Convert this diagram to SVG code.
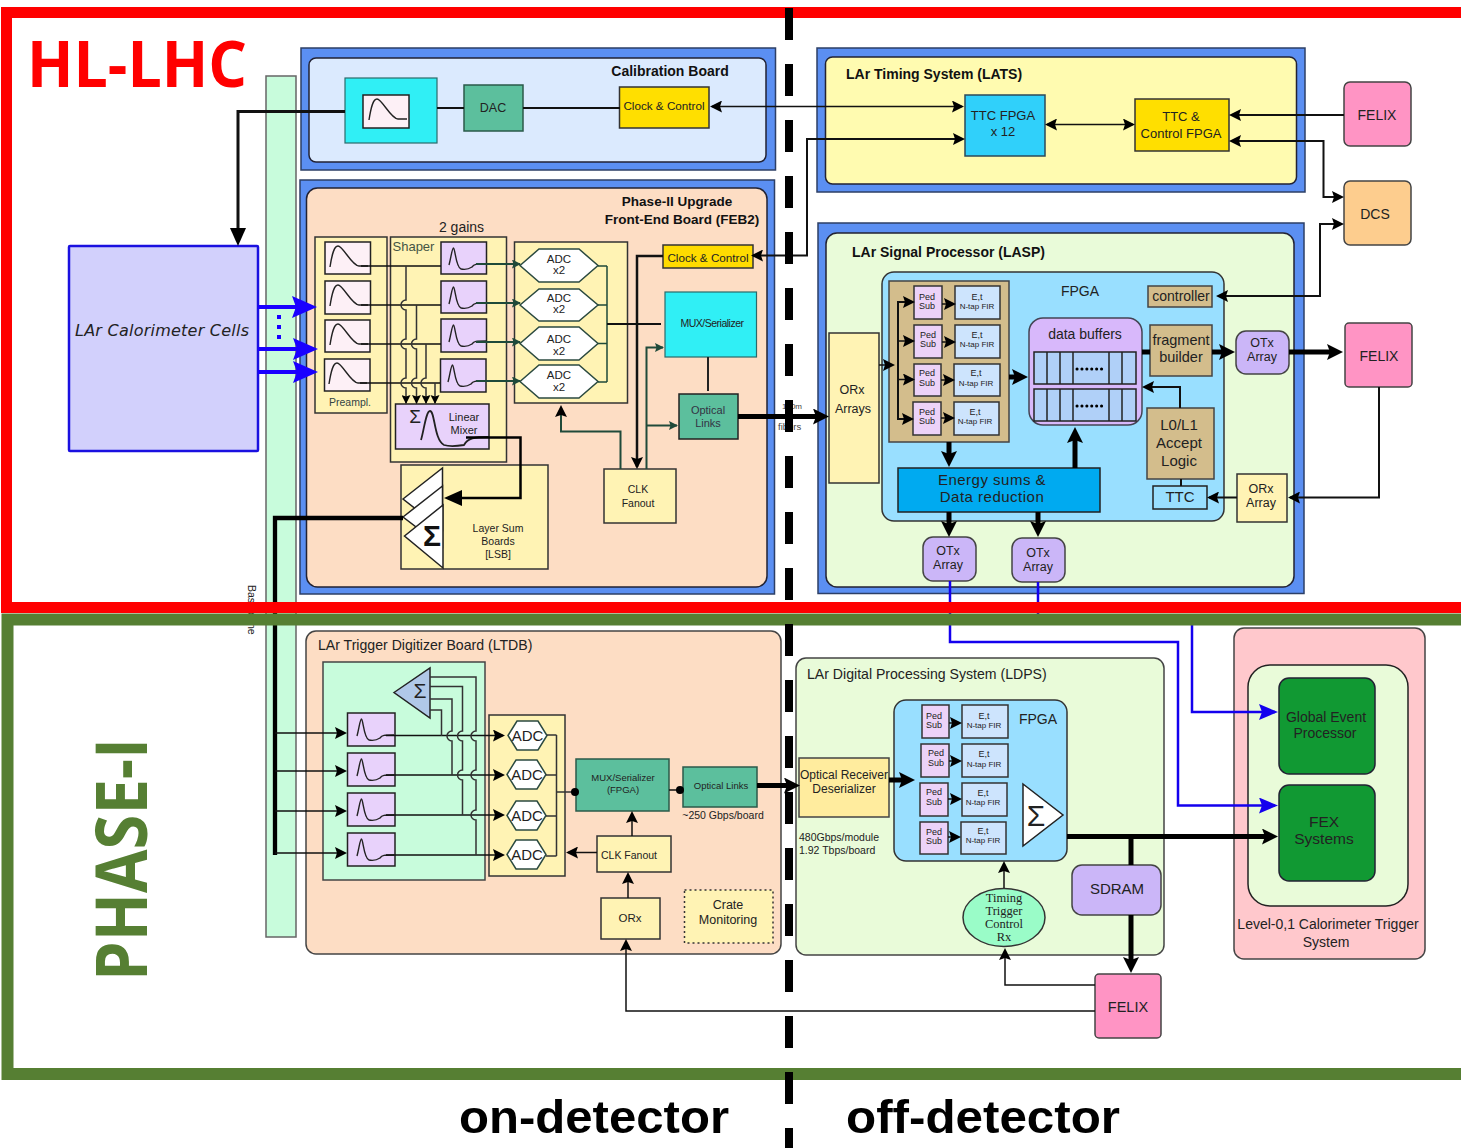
<svg xmlns="http://www.w3.org/2000/svg" width="1461" height="1148" viewBox="0 0 1461 1148">
<style>
text{font-family:"Liberation Sans",Arial,sans-serif;fill:#222;text-anchor:middle}
.l{text-anchor:start}
.b{font-weight:700;fill:#111}
.box{stroke:#333;stroke-width:1.5}
.blue{fill:#5b8ff2;stroke:#2c3f66;stroke-width:1.5}
.yel{fill:#fff3b4;stroke:#333;stroke-width:1.5}
.gold{fill:#ffdf00;stroke:#333;stroke-width:1.5}
.teal{fill:#5cbf9d;stroke:#2b5a4a;stroke-width:1.5}
.cy{fill:#30eff5;stroke:#2b6a6a;stroke-width:1.2}
.pk{fill:#ff94c4;stroke:#444;stroke-width:1.5}
.vio{fill:#cbb6f8;stroke:#444;stroke-width:1.5}
.tan{fill:#d3bd8c;stroke:#444;stroke-width:1.5}
.ped{fill:#ecd2f8;stroke:#333;stroke-width:1.5}
.fir{fill:#cde4fd;stroke:#333;stroke-width:1.5}
.pre{fill:#fdf0f6;stroke:#222;stroke-width:1.5}
.sh{fill:#e8d2fb;stroke:#222;stroke-width:1.5}
.hex{fill:#fff;stroke:#2b4a40;stroke-width:1.5}
.cv{fill:none;stroke:#222;stroke-width:1.4}
.s{fill:none;stroke:#111;stroke-width:1.5}
.m{fill:none;stroke:#111;stroke-width:2}
.g{fill:none;stroke:#1f4a3a;stroke-width:1.5}
.k{fill:none;stroke:#000;stroke-width:5}
.k3{fill:none;stroke:#000;stroke-width:2.5}
.bl{fill:none;stroke:#1400ee;stroke-width:2.5}
.bb{fill:none;stroke:#1a00ff;stroke-width:4}
.f8{font-size:8px}.f9{font-size:9px}.f95{font-size:9.5px}.f10{font-size:10.5px}.f11{font-size:11.5px}.f12{font-size:12.5px}.f13{font-size:13px}.f135{font-size:13.5px}.f14{font-size:14px}.f15{font-size:15px}
</style>
<defs>
<marker id="as" markerUnits="userSpaceOnUse" markerWidth="10" markerHeight="9" refX="8" refY="4.5" orient="auto-start-reverse"><path d="M0,0L9,4.5L0,9L1.5,4.5z" fill="#000"/></marker>
<marker id="ag" markerUnits="userSpaceOnUse" markerWidth="10" markerHeight="9" refX="8" refY="4.5" orient="auto-start-reverse"><path d="M0,0L9,4.5L0,9L1.5,4.5z" fill="#1f4a3a"/></marker>
<marker id="am" markerUnits="userSpaceOnUse" markerWidth="13" markerHeight="12" refX="10" refY="6" orient="auto-start-reverse"><path d="M0,0L12,6L0,12L2,6z" fill="#000"/></marker>
<marker id="ak" markerUnits="userSpaceOnUse" markerWidth="18" markerHeight="16" refX="10" refY="8" orient="auto"><path d="M0,0L16,8L0,16L3,8z" fill="#000"/></marker>
<marker id="al" markerUnits="userSpaceOnUse" markerWidth="20" markerHeight="16" refX="10" refY="8" orient="auto"><path d="M0,0L18,8L0,16z" fill="#000"/></marker>
<marker id="ab" markerUnits="userSpaceOnUse" markerWidth="26" markerHeight="22" refX="20" refY="11" orient="auto"><path d="M0,0L25,11L0,22L4,11z" fill="#1a00ff"/></marker>
<marker id="ac" markerUnits="userSpaceOnUse" markerWidth="20" markerHeight="16" refX="16" refY="8" orient="auto"><path d="M0,0L19,8L0,16L3,8z" fill="#1400ee"/></marker>
<path id="pc" class="cv" d="M5,25C7,12 9,4 13,4C18,4 27,24 34,24H43"/>
<path id="sc" class="cv" d="M8,23C10,16 11,6 12.5,6C14,6 15,26 20,27C25,28 28,27 31,25C33,22 35,22 45,22"/>
</defs>

<g id="backplane"><rect x="266" y="76" width="30" height="861" fill="#c8fcdc" stroke="#666" stroke-width="1.5"/><text x="248" y="585" class="l" transform="rotate(90 248 585)" style="font-size:10.500px">Baseplane</text></g>

<g id="calo"><rect x="69" y="246" width="189" height="205" rx="1" fill="#d2d0fc" stroke="#1a10e0" stroke-width="2.5"/><text x="75" y="336" class="l" style="font-family:'DejaVu Sans',sans-serif;font-style:italic;font-size:16px" textLength="174">LAr Calorimeter Cells</text></g>

<g id="calib"><rect x="301" y="48" width="474.500" height="122" class="blue"/><rect x="309" y="58" width="457" height="104" rx="7" fill="#dbeafe" stroke="#223" stroke-width="1.5"/><text x="670" y="76" class="b f14">Calibration Board</text></g>
<g id="calib-pulser"><rect x="345" y="78" width="92" height="65" class="cy"/><rect x="363" y="95" width="46" height="33" class="pre"/><use href="#pc" x="364" y="95"/></g>
<g id="dac"><rect x="464" y="85" width="59" height="46" class="teal"/><text x="493" y="112" class="f12">DAC</text></g>
<g id="calib-clock"><rect x="619.500" y="87" width="89.500" height="41" class="gold"/><text x="664" y="110" style="font-size:11.700px">Clock &amp; Control</text></g>

<g id="lats"><rect x="817" y="48" width="488" height="144" class="blue"/><rect x="825.500" y="57" width="471" height="127" rx="7" fill="#fffbb0" stroke="#223" stroke-width="1.5"/><text x="846" y="79" class="b l f14">LAr Timing System (LATS)</text></g>
<g id="ttc-fpga"><rect x="965" y="95" width="80" height="61" fill="#30d0fa" stroke="#2b4a5a" stroke-width="1.5"/><text x="1003" y="120" class="f13">TTC FPGA</text><text x="1003" y="136" class="f13">x 12</text></g>
<g id="ttc-control"><rect x="1135" y="99" width="94" height="52" class="gold"/><text x="1181" y="121" class="f13">TTC &amp;</text><text x="1181" y="138" class="f13">Control FPGA</text></g>
<g id="felix-top"><rect x="1344" y="82" width="67" height="64" rx="6" class="pk"/><text x="1377" y="120" class="f14">FELIX</text></g>
<g id="dcs"><rect x="1344" y="181" width="67" height="64" rx="6" fill="#fdcd8e" stroke="#444" stroke-width="1.5"/><text x="1375" y="219" class="f14">DCS</text></g>

<g id="feb2"><rect x="300" y="180" width="474.500" height="414" class="blue"/><rect x="306.500" y="188" width="460.500" height="399" rx="11" fill="#fdddc4" stroke="#223" stroke-width="1.5"/>
<text x="677" y="206" class="b f135">Phase-II Upgrade</text><text x="682" y="224" class="b f135">Front-End Board (FEB2)</text><text x="461.500" y="232" class="f14">2 gains</text></g>
<g id="preampl"><rect x="315" y="237" width="72" height="176" class="yel"/><text x="350" y="406" class="f10" style="fill:#344">Preampl.</text>
<rect x="325" y="242" width="45.500" height="32" class="pre"/><use href="#pc" x="325" y="242"/>
<rect x="325" y="281" width="45.500" height="33" class="pre"/><use href="#pc" x="325" y="281"/>
<rect x="325" y="320" width="45" height="32" class="pre"/><use href="#pc" x="325" y="320"/>
<rect x="324.500" y="359" width="45.500" height="32" class="pre"/><use href="#pc" x="324" y="359"/></g>
<g id="shaper"><rect x="390.500" y="237" width="116" height="225" class="yel"/><text x="392.500" y="251" class="l f13" style="fill:#454">Shaper</text>
<rect x="441" y="242" width="45.500" height="32" class="sh"/><use href="#sc" x="441" y="242"/>
<rect x="441" y="281" width="45.500" height="32" class="sh"/><use href="#sc" x="441" y="281"/>
<rect x="441" y="319" width="45.500" height="33" class="sh"/><use href="#sc" x="441" y="319"/>
<rect x="440.500" y="359" width="45.500" height="33" class="sh"/><use href="#sc" x="440" y="359"/></g>
<g id="mixer"><rect x="395.500" y="404" width="93.500" height="45" class="sh"/><path class="cv" style="stroke-width:1.8" d="M421,440C424,430 426,411 430,411C435,411 434,440 444,445C450,447 458,446 464,445C468,438 474,437 489,437"/><text x="415" y="423" style="font-size:19px">Σ</text><text x="464" y="421" style="font-size:11px">Linear</text><text x="464" y="434" style="font-size:11px">Mixer</text></g>
<g id="feb-adc"><rect x="514.500" y="242" width="113" height="161" class="yel"/>
<path class="hex" d="M520,265.500L539,249H579L598,265.500L579,282H539z"/><text x="559" y="263" class="f11">ADC</text><text x="559" y="274" class="f11">x2</text>
<path class="hex" d="M520,305L539,289H579L598,305L579,321H539z"/><text x="559" y="302" class="f11">ADC</text><text x="559" y="313" class="f11">x2</text>
<path class="hex" d="M520,343.500L539,327H579L598,343.500L579,360H539z"/><text x="559" y="343" class="f11">ADC</text><text x="559" y="355" class="f11">x2</text>
<path class="hex" d="M520,381.500L539,365H579L598,381.500L579,398H539z"/><text x="559" y="379" class="f11">ADC</text><text x="559" y="391" class="f11">x2</text></g>
<g id="feb-clock"><rect x="663" y="245" width="90" height="23" class="gold" style="fill:#ffdb00"/><text x="708" y="262" style="font-size:11.700px">Clock &amp; Control</text></g>
<g id="feb-mux"><rect x="665" y="292" width="91.500" height="65" class="cy"/><text x="712" y="327" style="font-size:10.500px;letter-spacing:-.5px">MUX/Serializer</text></g>
<g id="feb-optical"><rect x="679" y="394" width="59" height="45" class="teal" style="stroke:#222"/><text x="708" y="414" style="font-size:11px;fill:#334">Optical</text><text x="708" y="427" style="font-size:11px;fill:#334">Links</text></g>
<g id="feb-clk"><rect x="604" y="469" width="72" height="54" class="yel"/><text x="638" y="493" class="f10">CLK</text><text x="638" y="507" class="f10">Fanout</text></g>
<g id="lsb"><rect x="401" y="465" width="147" height="104" class="yel"/><path d="M403,499L442.500,468V530z" fill="#fff" stroke="#222" stroke-width="1.5"/><path d="M403,517L442.500,486V547z" fill="#fff" stroke="#222" stroke-width="1.5"/><path d="M404.500,536L443,505V568z" fill="#fff" stroke="#222" stroke-width="1.5"/><text x="432" y="546" class="b" style="font-size:30px">Σ</text><text x="498" y="532" class="f10">Layer Sum</text><text x="498" y="545" class="f10">Boards</text><text x="498" y="558" class="f10">[LSB]</text></g>

<g id="lasp"><rect x="818" y="223" width="486" height="370.500" class="blue"/><rect x="826" y="233" width="468" height="354" rx="11" fill="#e9fbd9" stroke="#223" stroke-width="1.5"/><text x="852" y="257" class="b l f14">LAr Signal Processor (LASP)</text></g>
<g id="lasp-orx"><rect x="829" y="333" width="50" height="150" class="yel"/><text x="852" y="394" class="f12">ORx</text><text x="853" y="413" class="f12">Arrays</text></g>
<g id="lasp-fpga"><rect x="882" y="272" width="342" height="249" rx="12" fill="#99dfff" stroke="#333" stroke-width="1.5"/><text x="1080" y="296" class="f14">FPGA</text></g>
<g id="lasp-filters"><rect x="889" y="281" width="120" height="161" class="tan"/>
<rect x="914" y="286" width="28" height="33" class="ped"/><rect x="955" y="286" width="45" height="33" class="fir"/><text x="927" y="299.500" class="f9">Ped</text><text x="927" y="308.500" class="f9">Sub</text><text x="977" y="299.500" class="f9">E,t</text><text x="977" y="308.500" class="f8">N-tap FIR</text>
<rect x="914" y="325" width="28" height="33" class="ped"/><rect x="955" y="325" width="45" height="33" class="fir"/><text x="928" y="337.500" class="f9">Ped</text><text x="928" y="346.500" class="f9">Sub</text><text x="977" y="337.500" class="f9">E,t</text><text x="977" y="347" class="f8">N-tap FIR</text>
<rect x="914" y="364" width="27" height="32" class="ped"/><rect x="954" y="364" width="46" height="32" class="fir"/><text x="927" y="376" class="f9">Ped</text><text x="927" y="385.500" class="f9">Sub</text><text x="976" y="376" class="f9">E,t</text><text x="976" y="385.500" class="f8">N-tap FIR</text>
<rect x="913" y="402" width="28" height="33" class="ped"/><rect x="954" y="402" width="45" height="33" class="fir"/><text x="927" y="415" class="f9">Ped</text><text x="927" y="424" class="f9">Sub</text><text x="975" y="415" class="f9">E,t</text><text x="975" y="424" class="f8">N-tap FIR</text></g>
<g id="lasp-buffers"><rect x="1029" y="318" width="113" height="107" rx="14" fill="#d8b8fb" stroke="#445" stroke-width="1.5"/><text x="1085" y="339" class="f14">data buffers</text>
<rect x="1034" y="352" width="102" height="32" fill="#b0d0f8" stroke="#222" stroke-width="1.5"/><rect x="1034" y="389" width="102" height="32" fill="#b0d0f8" stroke="#222" stroke-width="1.5"/>
<path d="M1047,352V384M1060,352V384M1073,352V384M1109,352V384M1122,352V384M1047,389V421M1060,389V421M1073,389V421M1109,389V421M1122,389V421" stroke="#222" stroke-width="1.5"/>
<path d="M1077,369H1103M1077,406H1103" stroke="#000" stroke-width="3" stroke-linecap="round" stroke-dasharray=".1 4.800"/></g>
<g id="lasp-controller"><rect x="1148" y="286" width="64" height="21" class="tan"/><text x="1181" y="301" class="f14">controller</text></g>
<g id="lasp-fragment"><rect x="1150" y="325" width="62" height="51" class="tan"/><text x="1181" y="345" style="font-size:14.500px">fragment</text><text x="1181" y="362" style="font-size:14.500px">builder</text></g>
<g id="lasp-accept"><rect x="1147" y="408" width="67" height="71" class="tan"/><text x="1179" y="430" style="font-size:15px">L0/L1</text><text x="1179" y="448" style="font-size:15px">Accept</text><text x="1179" y="466" style="font-size:15px">Logic</text></g>
<g id="lasp-ttc"><rect x="1153" y="486" width="54" height="23" fill="#99dfff" stroke="#222" stroke-width="1.5"/><text x="1180" y="502" class="f15">TTC</text></g>
<g id="lasp-energy"><rect x="898" y="468" width="202" height="44" fill="#00aaf0" stroke="#222" stroke-width="1.5"/><text x="992" y="485" style="font-size:15px;letter-spacing:.5px">Energy sums &amp;</text><text x="992" y="502" style="font-size:15px;letter-spacing:.5px">Data reduction</text></g>
<g id="lasp-otx-r"><rect x="1236" y="331" width="53" height="43" rx="10" class="vio"/><text x="1262" y="347" class="f12">OTx</text><text x="1262" y="361" class="f12">Array</text></g>
<g id="lasp-orx-r"><rect x="1237" y="474" width="50" height="48" class="yel"/><text x="1261" y="493" class="f12">ORx</text><text x="1261" y="507" class="f12">Array</text></g>
<g id="lasp-otx-1"><rect x="923" y="537" width="53" height="44" rx="10" class="vio"/><text x="948" y="555" class="f12">OTx</text><text x="948" y="569" class="f12">Array</text></g>
<g id="lasp-otx-2"><rect x="1012" y="538" width="53" height="44" rx="10" class="vio"/><text x="1038" y="557" class="f12">OTx</text><text x="1038" y="571" class="f12">Array</text></g>
<g id="felix-mid"><rect x="1345" y="323" width="67" height="64" rx="4" class="pk"/><text x="1379" y="361" class="f14">FELIX</text></g>

<g id="ltdb"><rect x="306" y="631" width="475" height="323" rx="10" fill="#fdddc4" stroke="#444" stroke-width="1.5"/><text x="318" y="650" class="l" style="font-size:14.100px">LAr Trigger Digitizer Board (LTDB)</text></g>
<g id="ltdb-green"><rect x="323" y="662" width="162" height="218" fill="#c8fcdc" stroke="#444" stroke-width="1.5"/><path d="M394,692.500L430,668V718z" fill="#b0c8e8" stroke="#222" stroke-width="1.5"/><text x="420" y="698" style="font-size:21px">Σ</text>
<rect x="347.500" y="713" width="47.500" height="33" class="sh"/><use href="#sc" x="349" y="713"/>
<rect x="347.500" y="753" width="47.500" height="33" class="sh"/><use href="#sc" x="349" y="753"/>
<rect x="347.500" y="793" width="47.500" height="33" class="sh"/><use href="#sc" x="349" y="793"/>
<rect x="347.500" y="833" width="47.500" height="33" class="sh"/><use href="#sc" x="349" y="833"/></g>
<g id="ltdb-adc"><rect x="489" y="715" width="76" height="161" class="yel"/>
<path class="hex" d="M508,735.500L517,721H538L547,735.500L538,750H517z"/><text x="527.500" y="740.500" class="f15">ADC</text>
<path class="hex" d="M507,774.500L516,760H537L546,774.500L537,789H516z"/><text x="527" y="779.500" class="f15">ADC</text>
<path class="hex" d="M507,815.500L516,801H537L546,815.500L537,830H516z"/><text x="527" y="820.500" class="f15">ADC</text>
<path class="hex" d="M507,854.500L516,840H537L546,854.500L537,869H516z"/><text x="527" y="859.500" class="f15">ADC</text></g>
<g id="ltdb-mux"><rect x="576" y="759" width="93" height="52" class="teal"/><text x="623" y="781" class="f95">MUX/Serializer</text><text x="623" y="793" class="f95">(FPGA)</text></g>
<g id="ltdb-optical"><rect x="683" y="767" width="74" height="40" class="teal"/><text x="721" y="789" class="f95">Optical Links</text><text x="723" y="819" class="f10">~250 Gbps/board</text></g>
<g id="ltdb-clk"><rect x="597" y="836" width="74" height="36" class="yel"/><text x="629" y="859" class="f10">CLK Fanout</text></g>
<g id="ltdb-orx"><rect x="601" y="898" width="59" height="41" class="yel"/><text x="630" y="922" class="f11">ORx</text></g>
<g id="ltdb-crate"><rect x="684.500" y="890" width="88.500" height="53" fill="#fff3b4" stroke="#333" stroke-width="1.5" stroke-dasharray="2 3"/><text x="728" y="909" class="f12">Crate</text><text x="728" y="924" class="f12">Monitoring</text></g>

<g id="ldps"><rect x="796" y="658" width="368" height="297" rx="10" fill="#e9fbd9" stroke="#444" stroke-width="1.5"/><text x="807" y="679" class="l" style="font-size:14.100px">LAr Digital Processing System (LDPS)</text><text x="799" y="841" class="l f10">480Gbps/module</text><text x="799" y="854" class="l f10">1.92 Tbps/board</text></g>
<g id="ldps-receiver"><rect x="799" y="758" width="90" height="59" fill="#ffec9e" stroke="#444" stroke-width="1.5"/><text x="844" y="779" style="font-size:12px">Optical Receiver</text><text x="844" y="793" style="font-size:12px">Deserializer</text></g>
<g id="ldps-fpga"><rect x="894" y="700" width="173" height="161" rx="12" fill="#99dfff" stroke="#333" stroke-width="1.5"/><text x="1038" y="724" class="f14">FPGA</text>
<rect x="922" y="705" width="27" height="33" class="ped"/><rect x="962" y="705" width="46" height="33" class="fir"/><text x="934" y="719" class="f9">Ped</text><text x="934" y="728" class="f9">Sub</text><text x="984" y="719" class="f9">E,t</text><text x="984" y="728" class="f8">N-tap FIR</text>
<rect x="921" y="744" width="28" height="33" class="ped"/><rect x="962" y="744" width="46" height="33" class="fir"/><text x="936" y="756" class="f9">Ped</text><text x="936" y="766" class="f9">Sub</text><text x="984" y="757" class="f9">E,t</text><text x="984" y="767" class="f8">N-tap FIR</text>
<rect x="920" y="783" width="28" height="33" class="ped"/><rect x="962" y="783" width="45" height="33" class="fir"/><text x="934" y="795" class="f9">Ped</text><text x="934" y="805" class="f9">Sub</text><text x="983" y="796" class="f9">E,t</text><text x="983" y="805" class="f8">N-tap FIR</text>
<rect x="920" y="822" width="28" height="32" class="ped"/><rect x="961" y="822" width="45" height="32" class="fir"/><text x="934" y="834.500" class="f9">Ped</text><text x="934" y="843.500" class="f9">Sub</text><text x="983" y="834" class="f9">E,t</text><text x="983" y="843" class="f8">N-tap FIR</text>
<path d="M1023,784L1063,815L1023,846z" fill="#fff" stroke="#222" stroke-width="1.5"/><text x="1036" y="826" style="font-size:30px">Σ</text></g>
<g id="ldps-timing"><ellipse cx="1004" cy="917.500" rx="41" ry="29" fill="#9afcc8" stroke="#333" stroke-width="1.5"/><text x="1004" y="902" style="font-family:'Liberation Serif',serif;font-size:12.500px">Timing</text><text x="1004" y="915" style="font-family:'Liberation Serif',serif;font-size:12.500px">Trigger</text><text x="1004" y="928" style="font-family:'Liberation Serif',serif;font-size:12.500px">Control</text><text x="1004" y="941" style="font-family:'Liberation Serif',serif;font-size:12.500px">Rx</text></g>
<g id="sdram"><rect x="1072" y="865" width="89" height="50" rx="10" class="vio"/><text x="1117" y="894" class="f15">SDRAM</text></g>
<g id="felix-bot"><rect x="1095" y="974" width="66" height="64" rx="4" class="pk"/><text x="1128" y="1012" style="font-size:14.500px">FELIX</text></g>

<g id="l1"><rect x="1234" y="628" width="191" height="331" rx="10" fill="#ffc8cc" stroke="#444" stroke-width="1.5"/><rect x="1248" y="665" width="160" height="241" rx="22" fill="#e9fbd9" stroke="#222" stroke-width="1.5"/><text x="1328" y="929" class="f14">Level-0,1 Calorimeter Trigger</text><text x="1326" y="947" class="f14">System</text></g>
<g id="gep"><rect x="1279" y="678" width="96" height="96" rx="10" fill="#119933" stroke="#223" stroke-width="1.5"/><text x="1326" y="722" class="f14">Global Event</text><text x="1325" y="738" class="f14">Processor</text></g>
<g id="fex"><rect x="1279" y="785" width="96" height="96" rx="10" fill="#119933" stroke="#223" stroke-width="1.5"/><text x="1324" y="827" style="font-size:15.500px">FEX</text><text x="1324" y="844" style="font-size:15.500px">Systems</text></g>

<g id="connectors">
<path class="m" d="M620,108H523M464,108H437"/>
<path class="m" d="M345,111.500H238V238" style="stroke-width:3" marker-end="url(#al)"/>
<path class="s" d="M712,106.500H962" marker-start="url(#am)" marker-end="url(#am)"/>
<path class="m" d="M753,255.500H807V139H963" marker-start="url(#am)" marker-end="url(#am)"/>
<path class="s" d="M1047,124.500H1133" marker-start="url(#am)" marker-end="url(#am)"/>
<path class="m" d="M1344,115H1231" marker-end="url(#am)"/>
<path class="m" d="M1231,141H1323.500V197H1342" marker-start="url(#am)" marker-end="url(#am)"/>
<path class="m" d="M1218,296H1320V224H1342" marker-start="url(#am)" marker-end="url(#am)"/>
<path class="bb" d="M258,307H312" marker-end="url(#ab)"/><path class="bb" d="M258,349H313" marker-end="url(#ab)"/><path class="bb" d="M258,372H313" marker-end="url(#ab)"/>
<path d="M279,315v4M279,325v4M279,335v4" stroke="#1a00ff" stroke-width="4"/>
<path class="s" d="M361,266H441M361,305H441M361,344H441M360,383H440"/>
<path class="g" style="stroke-width:1.8" d="M476,264H520" marker-end="url(#ag)"/><path class="g" style="stroke-width:1.8" d="M476,303H520" marker-end="url(#ag)"/><path class="g" style="stroke-width:1.8" d="M476,342H520" marker-end="url(#ag)"/><path class="g" style="stroke-width:1.8" d="M476,381H520" marker-end="url(#ag)"/>
<path class="g" style="stroke:#333" d="M406,266V300a5,5 0 0 0 0,10V339a5,5 0 0 0 0,10V378a5,5 0 0 0 0,10V403" marker-end="url(#as)"/>
<path class="g" style="stroke:#333" d="M416.500,305V339a5,5 0 0 0 0,10V378a5,5 0 0 0 0,10V403" marker-end="url(#as)"/>
<path class="g" style="stroke:#333" d="M426,344V378a5,5 0 0 0 0,10V403" marker-end="url(#as)"/>
<path class="g" style="stroke:#333" d="M435,383V403" marker-end="url(#as)"/>
<path class="g" d="M598,266H607M598,305H607M598,343.500H607M598,382H607M607,266V382"/>
<path class="m" d="M607,324H661"/>
<path class="m" d="M663,256H637V467" style="stroke-width:2.500" marker-end="url(#am)"/>
<path class="g" style="stroke-width:2" d="M646.500,469V347.500H663" marker-end="url(#ag)"/>
<path class="g" style="stroke-width:2" d="M646.500,425.500H677" marker-end="url(#ag)"/>
<path class="g" style="stroke-width:2" d="M620.500,469V431.500H561V407" marker-end="url(#am)"/>
<path class="g" style="stroke:#222;stroke-width:2" d="M708,357V391"/>
<path class="k3" d="M466,437.500H520.500V498H452" marker-end="url(#al)"/>
<path class="k" d="M738,416.500H823" marker-end="url(#ak)"/>
<path class="k" style="stroke-width:4.300" d="M403,518H275V855"/>
<path class="s" d="M275,733H345" marker-end="url(#am)"/><path class="s" d="M275,771H345" marker-end="url(#am)"/><path class="s" d="M275,811H345" marker-end="url(#am)"/><path class="s" d="M275,853H345" marker-end="url(#am)"/>
<path class="s" d="M386,735.500H503" marker-end="url(#am)"/><path class="s" d="M386,775H503" marker-end="url(#am)"/><path class="s" d="M386,815H503" marker-end="url(#am)"/><path class="s" d="M386,855H503" marker-end="url(#am)"/>
<path class="s" style="stroke:#333" d="M430,677H476V731a5,5 0 0 0 0,10V770a5,5 0 0 0 0,10V810a5,5 0 0 0 0,10V855"/>
<path class="s" style="stroke:#333" d="M430,686.500H462.500V731a5,5 0 0 0 0,10V770a5,5 0 0 0 0,10V815"/>
<path class="s" style="stroke:#333" d="M430,699H452V731a5,5 0 0 0 0,10V775"/>
<path class="s" style="stroke:#333" d="M430,710H441.500V736"/>
<path class="s" style="stroke:#333" d="M547,735H556.500M546,775H556.500M546,816H556.500M546,856H556.500M556.500,735V856M556.500,792H575"/>
<circle cx="575" cy="792" r="4" fill="#000"/><path class="s" d="M669,790H680"/><circle cx="680" cy="790" r="4" fill="#000"/>
<path class="k" d="M757,785.500H794" marker-end="url(#ak)"/>
<path class="s" d="M632,836V813" marker-end="url(#am)"/>
<path class="s" d="M597,852.500H568" marker-end="url(#am)"/>
<path class="s" d="M628,898V874" marker-end="url(#am)"/>
<path class="s" d="M1095,1011H626V941" marker-end="url(#am)"/>
<path class="k" d="M889,780H909" marker-end="url(#ak)"/>
<path class="s" d="M949,723H960" marker-end="url(#am)"/><path class="s" d="M949,761H960" marker-end="url(#am)"/><path class="s" d="M948,799H960" marker-end="url(#am)"/><path class="s" d="M948,837H959" marker-end="url(#am)"/>
<path class="k" d="M1067,836.500H1272" marker-end="url(#ak)"/>
<path class="k" d="M1131,836.500V865"/><path class="k" d="M1131,915V967" marker-end="url(#ak)"/>
<path class="s" d="M1004,888V863" marker-end="url(#am)"/>
<path class="s" d="M1095,985H1005V950" marker-end="url(#am)"/>
<path class="bl" d="M1038,582V620H1192V712H1275" marker-end="url(#ac)"/>
<path class="bl" d="M950,581V642H1178V805.500H1275" marker-end="url(#ac)"/>
<path class="s" d="M879,365H893" marker-end="url(#am)"/>
<path class="m" d="M911,302H898V419H911"/><path class="s" d="M898,302H913" marker-end="url(#am)"/><path class="s" d="M898,341H913" marker-end="url(#am)"/><path class="s" d="M898,379.500H913" marker-end="url(#am)"/><path class="s" d="M898,419H912" marker-end="url(#am)"/>
<path class="s" d="M942,304H954" marker-end="url(#am)"/><path class="s" d="M942,342H954" marker-end="url(#am)"/><path class="s" d="M941,380H953" marker-end="url(#am)"/><path class="s" d="M941,418H953" marker-end="url(#am)"/>
<path class="k" d="M1009,377H1022" marker-end="url(#ak)"/>
<path class="k" d="M1142,352H1150"/><path class="k" d="M1212,352H1229" marker-end="url(#ak)"/>
<path class="k" d="M1289,352H1337" marker-end="url(#ak)"/>
<path class="m" d="M1379,387V497.500H1290" marker-end="url(#am)"/>
<path class="m" d="M1237,497.500H1209" marker-end="url(#am)"/>
<path class="m" d="M1181,479V486"/>
<path class="m" d="M1180,408V387H1144" marker-end="url(#am)"/>
<path class="k" d="M949,442V461" marker-end="url(#ak)"/>
<path class="k" d="M1075,468V433" marker-end="url(#ak)"/>
<path class="k" d="M949,512V531" marker-end="url(#ak)"/>
<path class="k" d="M1038,512V531" marker-end="url(#ak)"/>
</g>

<text x="782" y="409" class="l" style="font-size:8px;fill:#444">150m</text>
<text x="778" y="430" class="l" style="font-size:9.500px;fill:#444">fibers</text>

<g id="frames"><rect x="6.500" y="12.500" width="1480" height="595" fill="none" stroke="#f00" stroke-width="11"/><rect x="7.500" y="619.500" width="1480" height="454.500" fill="none" stroke="#567f33" stroke-width="12"/></g>
<path id="divider" d="M789,8V1148" stroke="#000" stroke-width="8" stroke-dasharray="32 24" fill="none"/>

<text x="27" y="87" class="l b" style="font-family:'Open Sans',sans-serif;font-size:65px;fill:#f00" textLength="220" lengthAdjust="spacingAndGlyphs">HL-LHC</text>
<text x="147" y="981" class="l b" transform="rotate(-90 147 981)" style="font-family:'Open Sans',sans-serif;font-size:72px;fill:#567f33" textLength="243" lengthAdjust="spacingAndGlyphs">PHASE-I</text>
<text x="459" y="1133" class="l b" style="font-size:47px;fill:#000" textLength="270" lengthAdjust="spacingAndGlyphs">on-detector</text>
<text x="846" y="1133" class="l b" style="font-size:47px;fill:#000" textLength="274" lengthAdjust="spacingAndGlyphs">off-detector</text>
</svg>
